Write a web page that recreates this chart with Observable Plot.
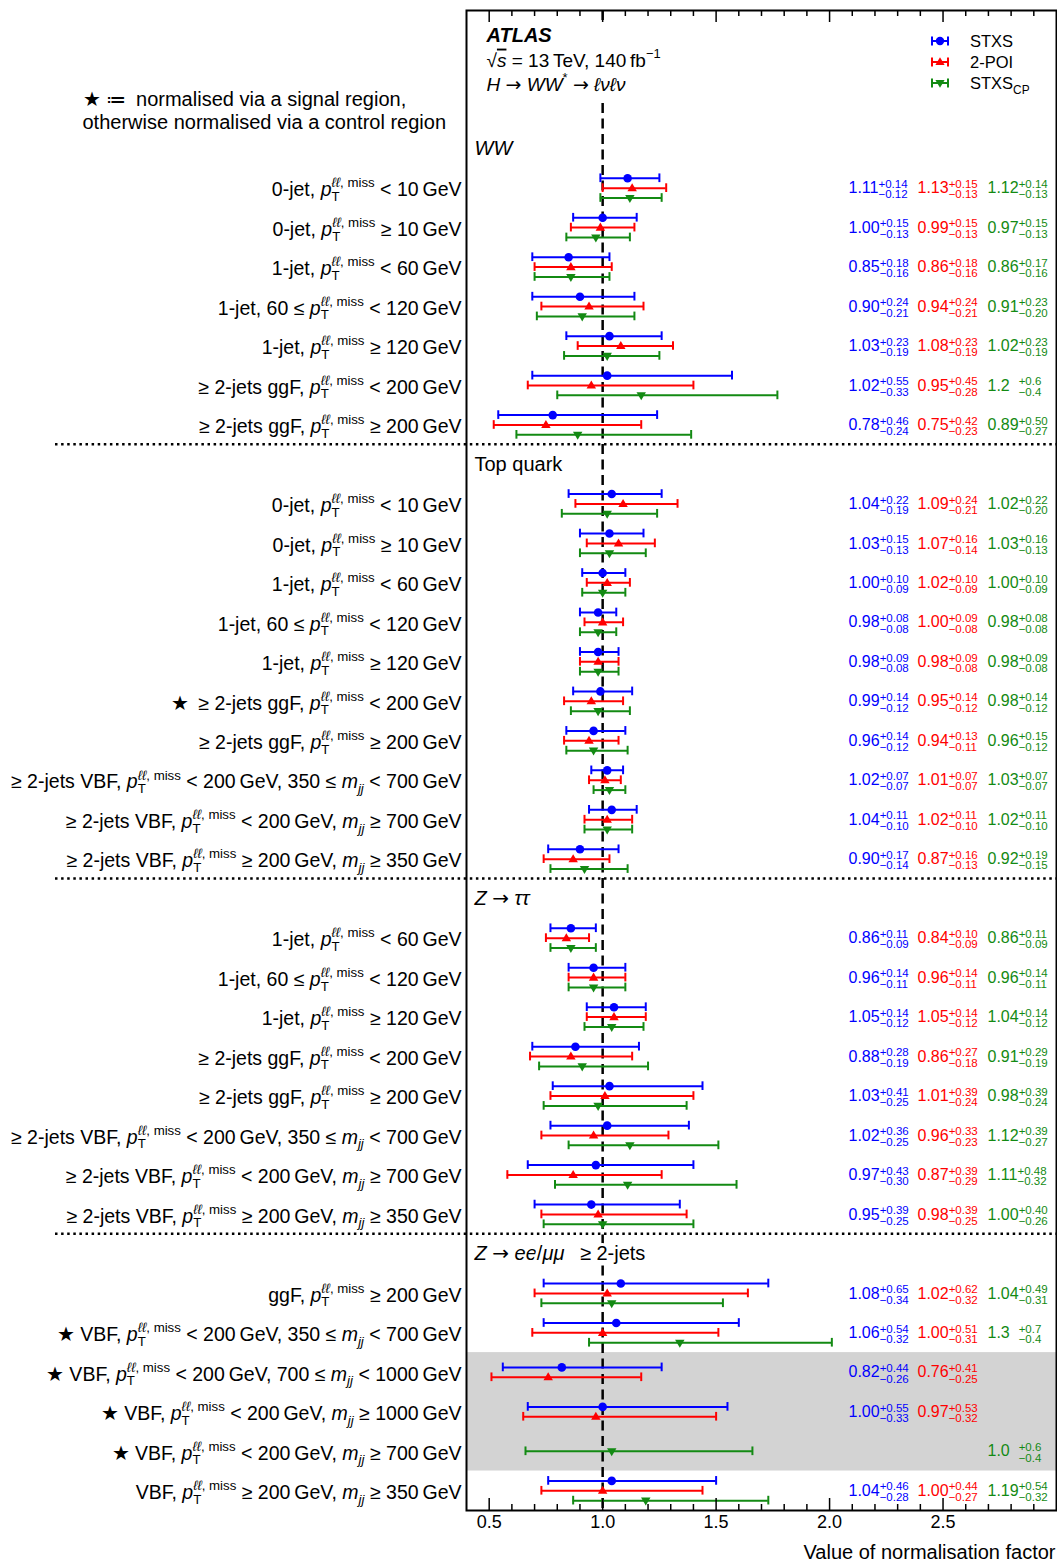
<!DOCTYPE html>
<html><head><meta charset="utf-8">
<script src="https://cdn.jsdelivr.net/npm/d3@7"></script>
<script src="https://cdn.jsdelivr.net/npm/@observablehq/plot@0.6"></script>
<style>body{margin:0;background:#fff} svg{display:block}</style>
</head><body><div id="chart"></div>
<script>
// ---------- DATA ----------
const pT = "%{p}_{T}^{%{ℓℓ}, miss}";
const mjj = "%{m}_{%{jj}}";
const th = "\u2009";
const sectionNames = ["%{WW}", "Top quark", "%{Z} @{→} %{ττ}", "%{Z} @{→} %{ee}/%{μμ}\u2002 ≥ 2-jets"];
const sectionSizes = [7, 10, 8, 6];
const rowLabels = [
 `0-jet, ${pT} < 10${th}GeV`,
 `0-jet, ${pT} ≥ 10${th}GeV`,
 `1-jet, ${pT} < 60${th}GeV`,
 `1-jet, 60 ≤ ${pT} < 120${th}GeV`,
 `1-jet, ${pT} ≥ 120${th}GeV`,
 `≥ 2-jets ggF, ${pT} < 200${th}GeV`,
 `≥ 2-jets ggF, ${pT} ≥ 200${th}GeV`,
 `0-jet, ${pT} < 10${th}GeV`,
 `0-jet, ${pT} ≥ 10${th}GeV`,
 `1-jet, ${pT} < 60${th}GeV`,
 `1-jet, 60 ≤ ${pT} < 120${th}GeV`,
 `1-jet, ${pT} ≥ 120${th}GeV`,
 `★\u2002≥ 2-jets ggF, ${pT} < 200${th}GeV`,
 `≥ 2-jets ggF, ${pT} ≥ 200${th}GeV`,
 `≥ 2-jets VBF, ${pT} < 200${th}GeV, 350 ≤ ${mjj} < 700${th}GeV`,
 `≥ 2-jets VBF, ${pT} < 200${th}GeV, ${mjj} ≥ 700${th}GeV`,
 `≥ 2-jets VBF, ${pT} ≥ 200${th}GeV, ${mjj} ≥ 350${th}GeV`,
 `1-jet, ${pT} < 60${th}GeV`,
 `1-jet, 60 ≤ ${pT} < 120${th}GeV`,
 `1-jet, ${pT} ≥ 120${th}GeV`,
 `≥ 2-jets ggF, ${pT} < 200${th}GeV`,
 `≥ 2-jets ggF, ${pT} ≥ 200${th}GeV`,
 `≥ 2-jets VBF, ${pT} < 200${th}GeV, 350 ≤ ${mjj} < 700${th}GeV`,
 `≥ 2-jets VBF, ${pT} < 200${th}GeV, ${mjj} ≥ 700${th}GeV`,
 `≥ 2-jets VBF, ${pT} ≥ 200${th}GeV, ${mjj} ≥ 350${th}GeV`,
 `ggF, ${pT} ≥ 200${th}GeV`,
 `★ VBF, ${pT} < 200${th}GeV, 350 ≤ ${mjj} < 700${th}GeV`,
 `★ VBF, ${pT} < 200${th}GeV, 700 ≤ ${mjj} < 1000${th}GeV`,
 `★ VBF, ${pT} < 200${th}GeV, ${mjj} ≥ 1000${th}GeV`,
 `★ VBF, ${pT} < 200${th}GeV, ${mjj} ≥ 700${th}GeV`,
 `VBF, ${pT} ≥ 200${th}GeV, ${mjj} ≥ 350${th}GeV`
];
const shadedRows = [27, 28, 29];

const seriesNames = ["STXS", "2-POI", "STXS_{CP}"];
const stxsVal = [1.11,1.00,0.85,0.90,1.03,1.02,0.78, 1.04,1.03,1.00,0.98,0.98,0.99,0.96,1.02,1.04,0.90, 0.86,0.96,1.05,0.88,1.03,1.02,0.97,0.95, 1.08,1.06,0.82,1.00,null,1.04];
const stxsUp  = [0.14,0.15,0.18,0.24,0.23,0.55,0.46, 0.22,0.15,0.10,0.08,0.09,0.14,0.14,0.07,0.11,0.17, 0.11,0.14,0.14,0.28,0.41,0.36,0.43,0.39, 0.65,0.54,0.44,0.55,null,0.46];
const stxsDn  = [0.12,0.13,0.16,0.21,0.19,0.33,0.24, 0.19,0.13,0.09,0.08,0.08,0.12,0.12,0.07,0.10,0.14, 0.09,0.11,0.12,0.19,0.25,0.25,0.30,0.25, 0.34,0.32,0.26,0.33,null,0.28];
const poiVal  = [1.13,0.99,0.86,0.94,1.08,0.95,0.75, 1.09,1.07,1.02,1.00,0.98,0.95,0.94,1.01,1.02,0.87, 0.84,0.96,1.05,0.86,1.01,0.96,0.87,0.98, 1.02,1.00,0.76,0.97,null,1.00];
const poiUp   = [0.15,0.15,0.18,0.24,0.23,0.45,0.42, 0.24,0.16,0.10,0.09,0.09,0.14,0.13,0.07,0.11,0.16, 0.10,0.14,0.14,0.27,0.39,0.33,0.39,0.39, 0.62,0.51,0.41,0.53,null,0.44];
const poiDn   = [0.13,0.13,0.16,0.21,0.19,0.28,0.23, 0.21,0.14,0.09,0.08,0.08,0.12,0.11,0.07,0.10,0.13, 0.09,0.11,0.12,0.18,0.24,0.23,0.29,0.25, 0.32,0.31,0.25,0.32,null,0.27];
const cpVal   = [1.12,0.97,0.86,0.91,1.02,1.17,0.89, 1.02,1.03,1.00,0.98,0.98,0.98,0.96,1.03,1.02,0.92, 0.86,0.96,1.04,0.91,0.98,1.12,1.11,1.00, 1.04,1.34,null,null,1.04,1.19];
const cpUp    = [0.14,0.15,0.17,0.23,0.23,0.60,0.50, 0.22,0.16,0.10,0.08,0.09,0.14,0.15,0.07,0.11,0.19, 0.11,0.14,0.14,0.29,0.39,0.39,0.48,0.40, 0.49,0.67,null,null,0.62,0.54];
const cpDn    = [0.13,0.13,0.16,0.20,0.19,0.37,0.27, 0.20,0.13,0.09,0.08,0.08,0.12,0.12,0.07,0.10,0.15, 0.09,0.11,0.12,0.19,0.24,0.27,0.32,0.26, 0.31,0.40,null,null,0.38,0.32];
const cpDecimals = [2,2,2,2,2,1,2, 2,2,2,2,2,2,2,2,2,2, 2,2,2,2,2,2,2,2, 2,1,2,2,1,2];

const xTickLabels = [0.5, 1.0, 1.5, 2.0, 2.5];
const atlasLines = ["√!{s} = 13" + th + "TeV, 140" + th + "fb^{−1}", "%{H} @{→} %{WW}^{*} @{→} %{ℓνℓν}"];
const noteLines = ["★ ≔\u2002normalised via a signal region,", "otherwise normalised via a control region"];
const axisTitle = "Value of normalisation factor";

// ---------- LAYOUT ----------
const W = 1057, H = 1562, mT = 10, mB = 52, mL = 466, mR = 1;
const frameH = H - mT - mB;
const FONT = "'Liberation Sans', Arial, Helvetica, sans-serif";
const BLUE = "#0000ff", RED = "#ff0000", GREEN = "#138a13";

const triUp = {draw(ctx, size) { const w = Math.sqrt(size) * 0.62, h = w * 1.7; ctx.moveTo(0, -h * 0.62); ctx.lineTo(w, h * 0.38); ctx.lineTo(-w, h * 0.38); ctx.closePath(); }};
const triDown = {draw(ctx, size) { const w = Math.sqrt(size) * 0.62, h = w * 1.7; ctx.moveTo(0, h * 0.62); ctx.lineTo(w, -h * 0.38); ctx.lineTo(-w, -h * 0.38); ctx.closePath(); }};

const series = [
  {name: seriesNames[0], color: BLUE, val: stxsVal, up: stxsUp, dn: stxsDn, dec: null, symbol: "circle", sym: d3.symbolCircle, dx: -208},
  {name: seriesNames[1], color: RED, val: poiVal, up: poiUp, dn: poiDn, dec: null, symbol: triUp, sym: triUp, dx: -139},
  {name: seriesNames[2], color: GREEN, val: cpVal, up: cpUp, dn: cpDn, dec: cpDecimals, symbol: triDown, sym: triDown, dx: -69}
];

const rows = [], headers = [], seps = [];
{
  let slot = 3.5, idx = 0;
  sectionSizes.forEach((n, s) => {
    headers.push({name: sectionNames[s], y: slot});
    for (let k = 0; k < n; k++, idx++) rows.push({i: idx, label: rowLabels[idx], y: slot + 1 + k});
    if (s < sectionSizes.length - 1) seps.push(slot + n + 0.5);
    slot += n + 1;
  });
}
// one continuous band over the shaded rows
const bands = [{y1: d3.min(shadedRows, i => rows[i].y) - 0.5, y2: d3.max(shadedRows, i => rows[i].y) + 0.5}];

const points = [];
rows.forEach(r => {
  const present = series.filter(s => s.val[r.i] != null);
  present.forEach((s, j) => {
    const v = s.val[r.i], u = s.up[r.i], d = s.dn[r.i];
    const dec = s.dec ? s.dec[r.i] : 2;
    points.push({series: s.name, v, lo: v - d, hi: v + u,
      y: r.y + (j - (present.length - 1) / 2) * 0.25, y0: r.y,
      text: `${v.toFixed(dec)}${dec === 1 ? "\u2007" : ""}^{+${u.toFixed(dec)}}_{−${d.toFixed(dec)}}`});
  });
});

// ---------- custom function marks ----------
const separatorsMark = (index, scales) => {
  const ys = scales && scales.y ? scales.y : d3.scaleLinear([0, 38], [mT, H - mB]);
  const g = d3.create("svg:g");
  for (const s of seps) g.append("line").attr("x1", 55).attr("x2", W - mR).attr("y1", ys(s)).attr("y2", ys(s))
    .attr("stroke", "black").attr("stroke-width", 2.5).attr("stroke-dasharray", "2.5,3.6");
  return g.node();
};
const atlasBoxMark = () => {
  const g = d3.create("svg:g");
  g.append("rect").attr("x", mL + 9).attr("y", mT + 12).attr("width", 210).attr("height", 76).attr("fill", "white");
  return g.node();
};
const legendMark = () => {
  const g = d3.create("svg:g");
  series.forEach((s, k) => {
    const y = 41 + k * 21, x0 = 932, x1 = 948, cx = 940;
    g.append("line").attr("x1", x0).attr("x2", x1).attr("y1", y).attr("y2", y).attr("stroke", s.color).attr("stroke-width", 2);
    for (const x of [x0, x1]) g.append("line").attr("x1", x).attr("x2", x).attr("y1", y - 4.5).attr("y2", y + 4.5).attr("stroke", s.color).attr("stroke-width", 2);
    g.append("path").attr("d", d3.symbol(s.sym, Math.PI * 4.2 * 4.2)()).attr("transform", `translate(${cx},${y})`).attr("fill", s.color);
    g.append("text").attr("x", 970).attr("y", y).attr("dy", "0.35em").attr("text-anchor", "start")
      .attr("font-size", 16.5).attr("fill", "black").text(s.name);
  });
  return g.node();
};

const errMarks = series.flatMap(s => {
  const pts = points.filter(p => p.series === s.name);
  return [
    Plot.ruleY(pts, {x1: "lo", x2: "hi", y: "y", stroke: s.color, strokeWidth: 2}),
    Plot.ruleX(pts, {x: "lo", y1: d => d.y - 0.11, y2: d => d.y + 0.11, stroke: s.color, strokeWidth: 2}),
    Plot.ruleX(pts, {x: "hi", y1: d => d.y - 0.11, y2: d => d.y + 0.11, stroke: s.color, strokeWidth: 2}),
    Plot.dot(pts, {x: "v", y: "y", r: 4.3, symbol: s.symbol, fill: s.color, stroke: "none"}),
    Plot.text(pts, {y: "y0", text: "text", frameAnchor: "right", dx: s.dx, textAnchor: "start", lineAnchor: "middle", fill: s.color, fontSize: 16})
  ];
});

const minorTicks = d3.range(5, 30).map(d => d / 10).filter(d => !xTickLabels.includes(d));

const chart = Plot.plot({
  width: W, height: H,
  marginTop: mT, marginBottom: mB, marginLeft: mL, marginRight: mR,
  style: {fontFamily: FONT, fontSize: "16px", background: "white", overflow: "visible", color: "black"},
  x: {domain: [0.4, 3.0], axis: null},
  y: {domain: [0, 38], reverse: true, axis: null},
  marks: [
    Plot.rect(bands, {y1: "y1", y2: "y2", fill: "#d3d3d3"}),
    separatorsMark,
    Plot.ruleX([1], {stroke: "black", strokeWidth: 2.5, strokeDasharray: "10,5.5"}),
    atlasBoxMark,
    ...errMarks,
    Plot.ruleX(minorTicks, {x: d => d, insetTop: frameH - 6, stroke: "black", strokeWidth: 1.5}),
    Plot.ruleX(minorTicks, {x: d => d, insetBottom: frameH - 6, stroke: "black", strokeWidth: 1.5}),
    Plot.ruleX(xTickLabels, {x: d => d, insetTop: frameH - 12, stroke: "black", strokeWidth: 1.5}),
    Plot.ruleX(xTickLabels, {x: d => d, insetBottom: frameH - 12, stroke: "black", strokeWidth: 1.5}),
    Plot.frame({stroke: "black", strokeWidth: 2}),
    Plot.text(xTickLabels, {x: d => d, frameAnchor: "bottom", dy: 12, lineAnchor: "middle", text: d => d.toFixed(1), fontSize: 18}),
    Plot.text([axisTitle], {frameAnchor: "bottom-right", dx: -1, dy: 42, lineAnchor: "middle", textAnchor: "end", fontSize: 20}),
    Plot.text(rows, {y: "y", text: "label", frameAnchor: "left", dx: -5, dy: 2, lineAnchor: "middle", textAnchor: "end", fontSize: 19.5}),
    Plot.text(headers, {y: "y", text: "name", frameAnchor: "left", dx: 8, lineAnchor: "middle", textAnchor: "start", fontSize: 20, fill: "black", stroke: "white", strokeWidth: 6, paintOrder: "stroke"}),
    Plot.text(["ATLAS"], {frameAnchor: "top-left", dx: 20, dy: 25, lineAnchor: "middle", textAnchor: "start", fontSize: 20, fontWeight: "bold", fontStyle: "italic"}),
    Plot.text([atlasLines[0]], {frameAnchor: "top-left", dx: 20, dy: 50, lineAnchor: "middle", textAnchor: "start", fontSize: 19}),
    Plot.text([atlasLines[1]], {frameAnchor: "top-left", dx: 20, dy: 74, lineAnchor: "middle", textAnchor: "start", fontSize: 19}),
    Plot.text([noteLines[0]], {frameAnchor: "top-left", dx: 82 - mL, dy: 89, lineAnchor: "middle", textAnchor: "start", fontSize: 20}),
    Plot.text([noteLines[1]], {frameAnchor: "top-left", dx: 82 - mL, dy: 112, lineAnchor: "middle", textAnchor: "start", fontSize: 20}),
    legendMark
  ]
});

// ---------- rich text (sub/superscripts, italics) ----------
function parseMarkup(str, style) {
  const out = [];
  let buf = "";
  const flush = () => { if (buf) { out.push({t: buf, ...style}); buf = ""; } };
  for (let i = 0; i < str.length; i++) {
    const c = str[i];
    if ("%_^!@".includes(c) && str[i + 1] === "{") {
      let depth = 0, j = i + 1;
      for (; j < str.length; j++) {
        if (str[j] === "{") depth++;
        else if (str[j] === "}") { depth--; if (depth === 0) break; }
      }
      flush();
      const st = {...style};
      if (c === "%") st.it = true;
      if (c === "!") { st.it = true; st.ov = true; }
      if (c === "@") st.sym = true;
      if (c === "_") st.pos = -1;
      if (c === "^") st.pos = 1;
      out.push(...parseMarkup(str.slice(i + 2, j), st));
      i = j;
    } else buf += c;
  }
  flush();
  return out;
}
function richify(root) {
  for (const el of root.querySelectorAll("text")) {
    const src = el.textContent;
    if (!/[%_^!@]\{/.test(src)) continue;
    const fs = parseFloat(getComputedStyle(el).fontSize) || 16;
    const P = fs >= 18 ? {sup: -0.46, sub: 0.24, sc: 0.68} : {sup: -0.34, sub: 0.32, sc: 0.72};
    const toks = parseMarkup(src, {it: false, ov: false, sym: false, pos: 0});
    const runs = [];
    for (const t of toks) {
      const last = runs[runs.length - 1];
      if (last && last.pos === t.pos) last.toks.push(t); else runs.push({pos: t.pos, toks: [t]});
    }
    while (el.firstChild) el.removeChild(el.firstChild);
    el.style.whiteSpace = "pre";
    let cur = 0, pending = null, extra = 0;
    for (const r of runs) {
      const target = r.pos === 1 ? P.sup * fs : r.pos === -1 ? P.sub * fs : 0;
      let dx = 0, stacked = false;
      if (pending && r.pos !== 0 && r.pos !== pending.pos) { dx = -pending.w; stacked = true; }
      else dx = extra;
      extra = 0;
      let w = 0;
      r.toks.forEach((t, k) => {
        const ts = document.createElementNS("http://www.w3.org/2000/svg", "tspan");
        ts.textContent = t.t;
        if (k === 0) {
          if (dx) ts.setAttribute("dx", dx);
          const dy = target - cur;
          if (dy) ts.setAttribute("dy", dy);
        }
        if (r.pos !== 0) ts.setAttribute("font-size", fs * P.sc);
        if (t.it) ts.setAttribute("font-style", "italic");
        if (t.ov) ts.setAttribute("text-decoration", "overline");
        if (t.sym) ts.setAttribute("font-family", "'DejaVu Sans', sans-serif");
        el.appendChild(ts);
        w += ts.getComputedTextLength();
      });
      cur = target;
      if (stacked) { extra = Math.max(0, pending.w - w); pending = null; }
      else if (r.pos !== 0) pending = {pos: r.pos, w};
      else pending = null;
    }
  }
}

document.getElementById("chart").append(chart);
richify(chart);
</script>
</body></html>
